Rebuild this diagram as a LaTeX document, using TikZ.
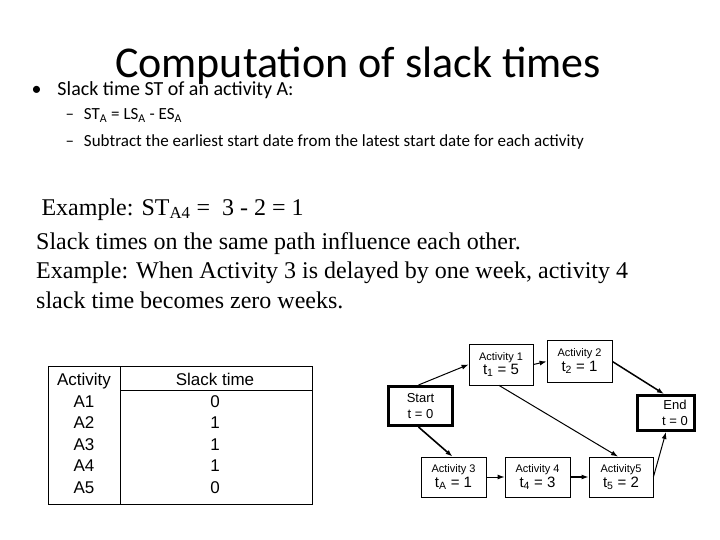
\documentclass[tikz,border=0pt]{standalone}
\usepackage{fontspec}
\setmainfont{Liberation Serif}
\newfontfamily\calfnt{Carlito}
\newfontfamily\arl{Liberation Sans}
\newcommand\lblfnt{\arl\fontsize{11}{12}\selectfont}
\newcommand\tvfnt{\arl\fontsize{15}{16}\selectfont}
\usetikzlibrary{arrows.meta}
\begin{document}
\begin{tikzpicture}[x=1pt,y=-1pt,
  box/.style={draw,line width=0.8pt,inner sep=0pt},
  thk/.style={draw,line width=3pt,inner sep=0pt},
  arr/.style={-{Latex[length=7pt,width=5pt]},line width=1pt}]
\useasboundingbox (0,0) rectangle (720,540);
\node[anchor=base,font=\calfnt\fontsize{44}{48}\selectfont] (title) at (358,78) {Computation of slack times};
\node[anchor=base west,font=\calfnt\fontsize{20}{22}\selectfont] (b1) at (28,96) {•\hspace{16pt}Slack time ST of an activity A:};
\node[anchor=base west,font=\calfnt\fontsize{17}{19}\selectfont] (b2) at (62,120) {–\hspace{10pt}ST\textsubscript{A} = LS\textsubscript{A} - ES\textsubscript{A}};
\node[anchor=base west,font=\calfnt\fontsize{17}{19}\selectfont] (b3) at (62,147) {–\hspace{10pt}Subtract the earliest start date from the latest start date for each activity};
\node[anchor=base west,font=\fontsize{24}{26}\selectfont] (ex) at (38,215) {Example: ST\textsubscript{A4} =\ \ 3 - 2 = 1};
\node[anchor=north west,align=left,inner sep=0pt,font=\fontsize{24}{29.5}\selectfont] (para) at (36,232) {Slack times on the same path influence each other.\\Example: When Activity 3 is delayed by one week, activity 4\\slack time becomes zero weeks.};
% table
\draw[line width=1pt] (48,366) rectangle (312,504);
\draw[line width=1pt] (120,366) -- (120,504);
\draw[line width=0.8pt] (120,390) -- (312,390);
\node[anchor=north,align=center,inner sep=0pt,font=\arl\fontsize{17}{21.5}\selectfont] (c1) at (84,373) {Activity\\A1\\A2\\A3\\A4\\A5};
\node[anchor=north,align=center,inner sep=0pt,font=\arl\fontsize{17}{21.5}\selectfont] (c2) at (215,373) {Slack time\\0\\1\\1\\1\\0};
% network
\node[thk,minimum width=64pt,minimum height=39pt,align=center,font=\arl\fontsize{13}{16}\selectfont] (st) at (420.5,406) {Start\\t = 0};
\node[thk,minimum width=57pt,minimum height=35pt,align=center,font=\arl\fontsize{13}{16}\selectfont] (en) at (666,413) {\hspace*{18pt}End\\\hspace*{18pt}t = 0};
\node[box,minimum width=64pt,minimum height=41pt,align=center] (a1) at (501,364.5) {{\lblfnt Activity 1}\\[1pt]{\tvfnt t\textsubscript{1} = 5}};
\node[box,minimum width=65pt,minimum height=42pt,align=center] (a2) at (579.5,361.5) {{\lblfnt Activity 2}\\[1pt]{\tvfnt t\textsubscript{2} = 1}};
\node[box,minimum width=65pt,minimum height=40pt,align=center] (a3) at (453.5,477) {{\lblfnt Activity 3}\\[1pt]{\tvfnt t\textsubscript{A} = 1}};
\node[box,minimum width=65pt,minimum height=40pt,align=center] (a4) at (537.5,477) {{\lblfnt Activity 4}\\[1pt]{\tvfnt t\textsubscript{4} = 3}};
\node[box,minimum width=64pt,minimum height=40pt,align=center] (a5) at (621,477) {{\lblfnt Activity5}\\[1pt]{\tvfnt t\textsubscript{5} = 2}};
\draw[arr] ([xshift=-2pt]st.north) -- (a1.west);
\draw[arr] (a1.east) -- (a2.west);
\draw[arr,line width=1.5pt] (a2.east) -- ([xshift=-2pt]en.north);
\draw[arr] ([xshift=-2pt]a1.south) -- ([xshift=-3pt]a5.north);
\draw[arr,line width=1.6pt] ([xshift=-2pt]st.south) -- ([xshift=-1pt]a3.north);
\draw[arr] (a3.east) -- (a4.west);
\draw[arr,line width=1.5pt] (a4.east) -- (a5.west);
\draw[arr] (a5.east) -- (en.south);
\end{tikzpicture}
\end{document}
